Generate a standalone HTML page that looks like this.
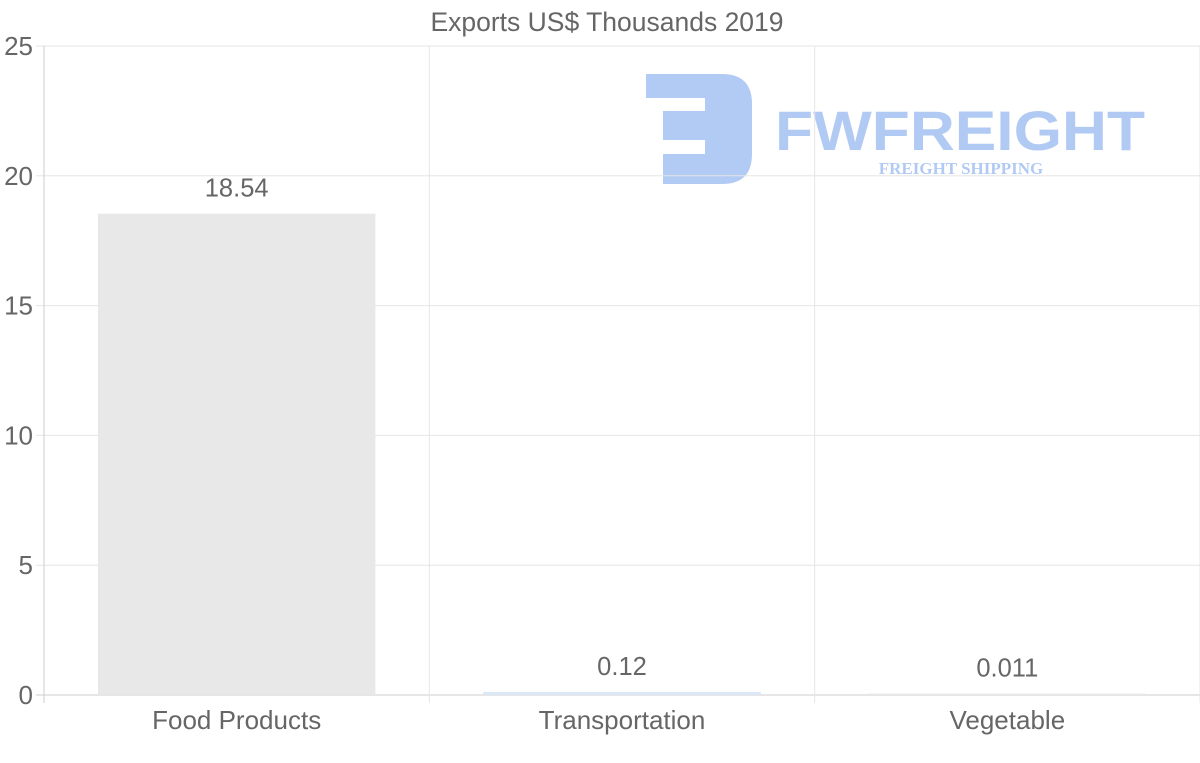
<!DOCTYPE html>
<html><head><meta charset="utf-8"><style>
html,body{margin:0;padding:0;background:#fff;}
svg{display:block;font-family:"Liberation Sans",sans-serif;}
</style></head><body>
<svg id="chart" width="1200" height="763" viewBox="0 0 1200 763">
<text x="607" y="31" text-anchor="middle" font-size="26.5" fill="#666">Exports US$ Thousands 2019</text>
<g id="watermark" opacity="0.95">
<path d="M646,74 H722 Q752,74 752,104 V154 Q752,184 722,184 H663 V154 H705 V140 H663 V111 H705 V98 H646 Z" fill="#adc8f3"/>
<text x="960" y="150" text-anchor="middle" font-size="56" font-weight="bold" fill="#adc8f3" textLength="370" lengthAdjust="spacingAndGlyphs">FWFREIGHT</text>
<text x="961" y="174" text-anchor="middle" font-size="17" font-weight="bold" font-family="Liberation Serif,serif" fill="#adc8f3">FREIGHT SHIPPING</text>
</g>
<g id="grid"></g>
<g id="bars"></g>
<g id="labels"></g>
</svg>
<script>
const categories = ["Food Products", "Transportation", "Vegetable"];
const values = [18.54, 0.12, 0.011];
const valueLabels = ["18.54", "0.12", "0.011"];
const yTicks = [0, 5, 10, 15, 20, 25];
const barColors = ["#e8e8e8", "#dbe7f5", "#e8e8e8"];

const NS = "http://www.w3.org/2000/svg";
const L = 44, R = 1200, T = 46, B = 695, yMax = 25;
const colW = (R - L) / categories.length;
const y = v => B - (v / yMax) * (B - T);
const x = i => L + i * colW;
function mk(tag, attrs, parent) {
  const e = document.createElementNS(NS, tag);
  for (const k in attrs) e.setAttribute(k, attrs[k]);
  parent.appendChild(e);
  return e;
}
const grid = document.getElementById("grid");
const bars = document.getElementById("bars");
const labels = document.getElementById("labels");

yTicks.forEach(t => {
  const ln = mk("line", {x1: L - 8, x2: R, y1: y(t), y2: y(t), stroke: t === 0 ? "#ccc" : "#e6e6e6", "stroke-width": 1}, grid);
  
  
  const tx = mk("text", {x: 33, y: y(t) + 9, "text-anchor": "end", "font-size": 26, fill: "#666"}, labels);
  tx.textContent = t;
  
  
});
for (let i = 0; i <= categories.length; i++) {
  const ln = mk("line", {x1: x(i), x2: x(i), y1: T, y2: B + 8, stroke: i === 0 ? "#ccc" : "#e6e6e6", "stroke-width": 1}, grid);
  
  
}
categories.forEach((c, i) => {
  const bw = colW * 0.72;
  const bx = x(i) + (colW - bw) / 2;
  const h = Math.max(B - y(values[i]), 1.5);
  const r = mk("rect", {x: bx, y: B - h, width: bw, height: h, fill: barColors[i]}, bars);
  
  
  const vl = mk("text", {x: x(i) + colW / 2, y: B - h - 17, "text-anchor": "middle", "font-size": 25.5, fill: "#666"}, labels);
  vl.textContent = valueLabels[i];
  
  
  const cl = mk("text", {x: x(i) + colW / 2, y: 729, "text-anchor": "middle", "font-size": 26, fill: "#666"}, labels);
  cl.textContent = c;
  
  
});
</script>
</body></html>
